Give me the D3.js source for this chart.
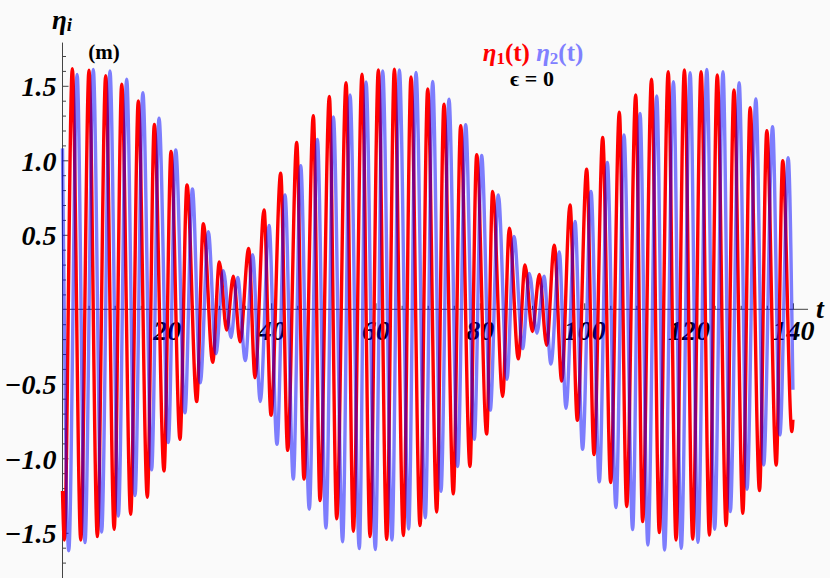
<!DOCTYPE html>
<html><head><meta charset="utf-8">
<script src="https://cdn.jsdelivr.net/npm/d3@7/dist/d3.min.js"></script>
<style>
body{margin:0;background:#fafafa;}
svg{display:block;}
text{font-family:"Liberation Serif","Times New Roman",serif;}
</style></head>
<body>
<svg id="c" width="830" height="578"></svg>
<script>
// ---- data (extrema of each curve, in time order) ----
const tEta1 = [0,0.35,1.88,3.5,5.08,6.68,8.28,9.9,11.35,13.07,14.53,16.26,17.6,19.46,20.8,22.52,23.86,25.72,27.0,28.79,30.06,31.47,32.75,34.03,35.69,36.9,38.63,39.97,41.82,43.16,44.89,46.29,48.08,49.36,51.15,52.56,54.35,55.75,57.41,58.95,60.54,62.14,63.61,65.34,66.8,68.53,70.0,71.72,73.12,74.91,76.32,78.1,79.39,81.3,82.45,84.37,85.65,87.37,88.65,90.06,91.4,92.8,94.27,95.68,97.28,98.68,100.47,101.88,103.54,105.07,106.73,108.14,109.87,111.2,112.9,114.4,116.1,117.6,119.2,120.8,122.4,124.0,125.5,127.2,128.7,130.4,131.8,133.6,135.0,136.8,138.05,139.8,140];
const vEta1 = [-1.22,-1.548,1.615,-1.548,1.605,-1.526,1.568,-1.477,1.51,-1.376,1.398,-1.261,1.241,-1.085,1.06,-0.872,0.835,-0.619,0.575,-0.356,0.317,-0.14,0.222,-0.218,0.408,-0.459,0.667,-0.711,0.913,-0.947,1.119,-1.14,1.30,-1.284,1.429,-1.406,1.521,-1.49,1.578,-1.525,1.606,-1.544,1.612,-1.518,1.56,-1.452,1.479,-1.36,1.376,-1.239,1.232,-1.055,1.037,-0.837,0.791,-0.585,0.544,-0.333,0.298,-0.149,0.234,-0.241,0.431,-0.482,0.70,-0.745,0.94,-0.975,1.154,-1.163,1.323,-1.323,1.438,-1.425,1.544,-1.499,1.595,-1.548,1.606,-1.542,1.595,-1.515,1.572,-1.452,1.472,-1.369,1.353,-1.217,1.199,-1.045,0.997,-0.821,-0.74];
const tEta2 = [0,1.2,2.8,4.31,5.9,7.5,9.1,10.7,12.3,13.9,15.4,17.08,18.5,20.28,21.7,23.47,24.9,26.41,27.95,29.41,30.83,32.29,33.58,35.04,36.45,37.91,39.59,41.11,42.65,44.24,45.66,47.3,48.85,50.5,51.92,53.69,55.11,56.89,58.18,59.96,61.37,63.15,64.57,66.35,67.76,69.54,70.95,72.54,74.08,75.73,77.28,78.93,80.34,81.99,83.54,85.19,86.54,88.19,89.48,90.94,92.29,93.62,95.23,96.5,98.24,99.69,101.3,102.89,104.43,106.08,107.63,109.28,110.7,112.2,113.9,115.4,117.1,118.6,120.3,121.8,123.5,125.0,126.6,128.0,129.7,131.2,132.9,134.4,136.1,137.5,139.1,140];
const vEta2 = [1.08,-1.62,1.577,-1.566,1.61,-1.495,1.599,-1.388,1.544,-1.25,1.454,-1.078,1.282,-0.894,1.069,-0.695,0.807,-0.493,0.521,-0.298,0.259,-0.19,0.213,-0.344,0.367,-0.619,0.562,-0.906,0.768,-1.14,0.963,-1.342,1.14,-1.468,1.291,-1.56,1.438,-1.606,1.525,-1.612,1.599,-1.548,1.606,-1.475,1.589,-1.399,1.53,-1.222,1.41,-1.055,1.239,-0.872,1.032,-0.677,0.768,-0.47,0.489,-0.264,0.241,-0.161,0.222,-0.367,0.385,-0.665,0.589,-0.94,0.791,-1.158,0.986,-1.33,1.17,-1.479,1.314,-1.582,1.432,-1.615,1.528,-1.604,1.588,-1.564,1.61,-1.477,1.595,-1.358,1.521,-1.208,1.411,-1.045,1.226,-0.843,1.017,-0.54];
const xMajorTicks = [20,40,60,80,100,120,140];
const yMajorTicks = [-1.5,-1.0,-0.5,0.5,1.0,1.5];
const legendLabel = "ϵ = 0";
const panelLabel = "(m)";

// ---- scales ----
const svg = d3.select("#c");
const x = d3.scaleLinear().domain([0,140]).range([62.5,792.9]);
const y = d3.scaleLinear().domain([-1,1]).range([458.3,160.3]);
const x0 = x(0), y0 = y(0);

svg.append("rect").attr("width",830).attr("height",578).attr("fill","#fafafa");

// ---- axes ----
const axCol = "#444";
svg.append("line").attr("x1",x(0)).attr("x2",x(142.9)).attr("y1",y0).attr("y2",y0)
  .attr("stroke",axCol).attr("stroke-width",1);
svg.append("line").attr("x1",x0).attr("x2",x0).attr("y1",y(1.79)).attr("y2",578)
  .attr("stroke",axCol).attr("stroke-width",1);

const xMinor = d3.range(5,141,5).filter(v=>!xMajorTicks.includes(v));
const gxm = svg.append("g").attr("transform",`translate(0,${y0})`)
  .call(d3.axisBottom(x).tickValues(xMinor).tickSize(-3.5).tickFormat(""));
const gx = svg.append("g").attr("transform",`translate(0,${y0})`)
  .call(d3.axisBottom(x).tickValues(xMajorTicks).tickSize(-6).tickPadding(0).tickFormat(d3.format("d")));
[gxm,gx].forEach(g=>{g.select(".domain").remove(); g.selectAll(".tick line").attr("stroke",axCol);});
gx.selectAll(".tick text").attr("y",0).attr("dy",31)
  .attr("font-family","Liberation Serif").attr("font-size",28).attr("font-weight","bold")
  .attr("font-style","italic").attr("fill","#000");

const yMinor = d3.range(-17,18).map(v=>v/10).filter(v=>Math.abs(v)>1e-9 && !yMajorTicks.some(m=>Math.abs(m-v)<1e-9));
const gym = svg.append("g").attr("transform",`translate(${x0},0)`)
  .call(d3.axisLeft(y).tickValues(yMinor).tickSize(-3.5).tickFormat(""));
const gy = svg.append("g").attr("transform",`translate(${x0},0)`)
  .call(d3.axisLeft(y).tickValues(yMajorTicks).tickSize(-6).tickPadding(6).tickFormat(d3.format(".1f")));
[gym,gy].forEach(g=>{g.select(".domain").remove(); g.selectAll(".tick line").attr("stroke",axCol);});
gy.selectAll(".tick text").attr("dy","0.36em")
  .attr("font-family","Liberation Serif").attr("font-size",28).attr("font-weight","bold")
  .attr("font-style","italic").attr("fill","#000");

// ---- curves ----
const line = d3.line().x(d=>x(d[0])).y(d=>y(d[1])).curve(d3.curveMonotoneX);
const eta1 = tEta1.map((t,i)=>[t,vEta1[i]]);
const eta2 = tEta2.map((t,i)=>[t,vEta2[i]]);
svg.append("path").attr("d",line(eta1)).attr("fill","none").attr("stroke","#ff0000")
  .attr("stroke-width",3.4).attr("stroke-linejoin","round");
svg.append("path").attr("d",line(eta2)).attr("fill","none").attr("stroke","#0000ff")
  .attr("stroke-opacity",0.5).attr("stroke-width",3.4).attr("stroke-linejoin","round");

// ---- labels ----
const yl = svg.append("text").attr("x",52).attr("y",29).attr("font-size",27)
  .attr("font-style","italic").attr("font-weight","bold").attr("fill","#000");
yl.append("tspan").text("η");
yl.append("tspan").attr("font-size",19).attr("dy",2).text("i");

svg.append("text").attr("x",816).attr("y",318).attr("font-size",28)
  .attr("font-style","italic").attr("font-weight","bold").attr("fill","#000").text("t");

svg.append("text").attr("x",104).attr("y",59).attr("text-anchor","middle")
  .attr("font-size",21).attr("font-weight","bold").attr("fill","#000").text(panelLabel);

const lg = svg.append("text").attr("x",533).attr("y",61).attr("text-anchor","middle")
  .attr("font-size",25).attr("font-weight","bold");
lg.append("tspan").attr("fill","#ff0000").attr("font-style","italic").text("η");
lg.append("tspan").attr("fill","#ff0000").attr("font-size",17).attr("dy",3).text("1");
lg.append("tspan").attr("fill","#ff0000").attr("dy",-3).text("(t) ");
lg.append("tspan").attr("fill","#8080ff").attr("font-style","italic").text("η");
lg.append("tspan").attr("fill","#8080ff").attr("font-size",17).attr("dy",3).text("2");
lg.append("tspan").attr("fill","#8080ff").attr("dy",-3).text("(t)");

svg.append("text").attr("x",532).attr("y",86).attr("text-anchor","middle")
  .attr("font-size",22).attr("font-weight","bold").attr("fill","#000").text(legendLabel);
</script>
</body></html>
